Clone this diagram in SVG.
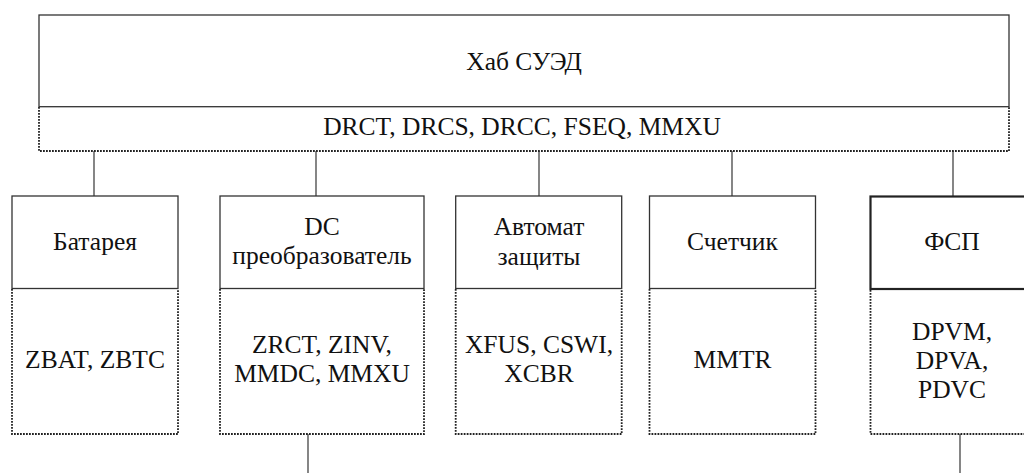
<svg xmlns="http://www.w3.org/2000/svg" width="1024" height="473" viewBox="0 0 1024 473">
<style>
text{font-family:'Liberation Serif','Tinos','Nimbus Roman','Times New Roman','Noto Serif','DejaVu Serif',serif;font-size:25.5px;fill:#111;text-anchor:middle}
.solid{fill:#fff;stroke:#333;stroke-width:1.3}
.thick{fill:#fff;stroke:#222;stroke-width:2.2}
.dot{fill:none;stroke:#222;stroke-width:1.8;stroke-dasharray:1.8 1.2}
.conn{stroke:#444;stroke-width:1.3;fill:none}
</style>
<rect width="1024" height="473" fill="#fff"/>
<g id="connectors">
<line class="conn" x1="94" y1="151" x2="94" y2="196"/>
<line class="conn" x1="316" y1="151" x2="316" y2="196"/>
<line class="conn" x1="539" y1="151" x2="539" y2="196"/>
<line class="conn" x1="732" y1="151" x2="732" y2="196"/>
<line class="conn" x1="953" y1="151" x2="953" y2="196"/>
<line class="conn" x1="308" y1="434" x2="308" y2="473"/>
<line class="conn" x1="960" y1="434" x2="960" y2="473"/>
</g>
<g id="hub">
<rect class="solid" x="39" y="15" width="970" height="91.7"/>
<path class="dot" d="M39,107 V151 H1009 V107"/>
<text x="524" y="69.5">Хаб СУЭД</text>
<text x="522" y="134.5">DRCT, DRCS, DRCC, FSEQ, MMXU</text>
</g>
<g id="battery">
<rect class="solid" x="12" y="196" width="166" height="92.5"/>
<path class="dot" d="M12,289 V434 H178 V289"/>
<text x="95" y="250">Батарея</text>
<text x="95" y="368">ZBAT, ZBTC</text>
</g>
<g id="dc">
<rect class="solid" x="220" y="196" width="204" height="92.5"/>
<path class="dot" d="M220,289 V434 H424 V289"/>
<text x="322" y="235">DC</text>
<text x="322" y="264">преобразователь</text>
<text x="322" y="353">ZRCT, ZINV,</text>
<text x="322" y="382">MMDC, MMXU</text>
</g>
<g id="breaker">
<rect class="solid" x="455.7" y="196" width="166" height="92.5"/>
<path class="dot" d="M455.7,289 V434 H621.7 V289"/>
<text x="539" y="235">Автомат</text>
<text x="539" y="265">защиты</text>
<text x="539" y="353">XFUS, CSWI,</text>
<text x="539" y="382">XCBR</text>
</g>
<g id="meter">
<rect class="solid" x="649.5" y="196" width="166" height="92.5"/>
<path class="dot" d="M649.5,289 V434 H815.5 V289"/>
<text x="732.5" y="250">Счетчик</text>
<text x="732.5" y="368">MMTR</text>
</g>
<g id="fsp">
<rect class="thick" x="870.5" y="196.5" width="170" height="92.5"/>
<path class="dot" d="M870.5,290 V434 H1040"/>
<text x="952" y="250">ФСП</text>
<text x="952" y="339.5">DPVM,</text>
<text x="952" y="368.5">DPVA,</text>
<text x="952" y="397.5">PDVC</text>
</g>
</svg>
